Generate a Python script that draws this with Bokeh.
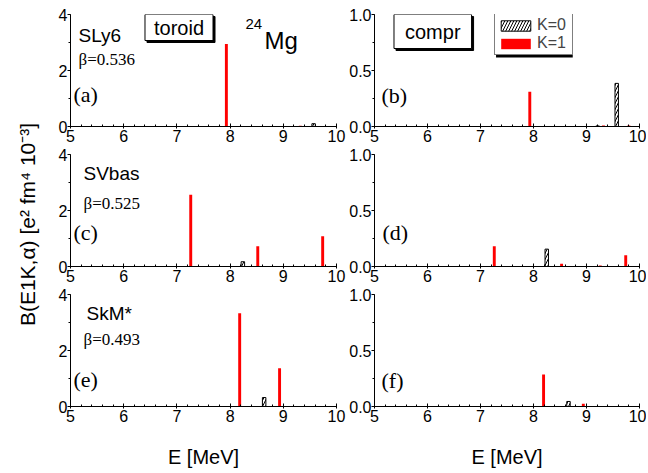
from math import pi
from bokeh.plotting import figure
from bokeh.models import (Range1d, SingleIntervalTicker, Label, Legend, LegendItem,
                          NumeralTickFormatter, ColumnDataSource, BoxAnnotation)
from bokeh.layouts import column, row
from bokeh.embed import file_html
from bokeh.resources import INLINE

# ---------------- data (E in MeV, B(E1K) in e^2 fm^4 10^-3) ----------------
x_ticks = [5, 6, 7, 8, 9, 10]

# (a) SLy6 toroidal
a_E1 = [7.93, 9.25, 9.32, 9.80]
a_B1 = [2.95, 0.02, 0.03, 0.02]
a_E0 = [9.57]
a_B0 = [0.10]
# (b) SLy6 compression
b_E1 = [7.93, 9.32, 9.80]
b_B1 = [0.31, 0.01, 0.01]
b_E0 = [9.21, 9.57]
b_B0 = [0.005, 0.385]
# (c) SVbas toroidal
c_E1 = [7.26, 8.52, 8.80, 9.25, 9.74]
c_B1 = [2.56, 0.72, 0.02, 0.02, 1.08]
c_E0 = [8.24]
c_B0 = [0.17]
# (d) SVbas compression
d_E1 = [7.26, 8.53, 8.80, 9.10, 9.26, 9.74]
d_B1 = [0.18, 0.025, 0.005, 0.005, 0.008, 0.10]
d_E0 = [8.25]
d_B0 = [0.155]
# (e) SkM* toroidal
e_E1 = [8.18, 8.93, 9.62]
e_B1 = [3.33, 1.37, 0.02]
e_E0 = [8.64]
e_B0 = [0.32]
# (f) SkM* compression
f_E1 = [8.19, 8.94]
f_B1 = [0.285, 0.025]
f_E0 = [8.66]
f_B0 = [0.045]

forces = ["SLy6", "SVbas", "SkM*"]
betas = ["\u03b2=0.536", "\u03b2=0.525", "\u03b2=0.493"]
panel_tags = ["(a)", "(b)", "(c)", "(d)", "(e)", "(f)"]
y_title = "B(E1K,\u03b1) [e\u00b2 fm\u2074 10\u207b\u00b3]"

SANS = "Liberation Sans"
SERIF = "Liberation Serif"

# layout geometry (pixels)
LABEL_W = 40
FRAME_W, FRAME_H = 266, 112
LEFT_X0, RIGHT_X0 = 70, 373          # frame left edges in reference image
ROW_BOTTOM = [126, 266, 406]         # frame bottoms in reference image
ROW_H = [148, 140, 182]
TOTAL_H = sum(ROW_H)


def make_fig(col, rw, ymax):
    last = rw == 2
    mbl = (LEFT_X0 - LABEL_W) if col == 0 else 27
    mbr = 10 if col == 0 else 7
    mbt = 14 if rw == 0 else 6
    mbb = ROW_H[rw] - mbt - FRAME_H
    p = figure(width=mbl + FRAME_W + mbr, height=ROW_H[rw],
               x_range=Range1d(5, 10), y_range=Range1d(0, ymax),
               output_backend="svg", toolbar_location=None,
               min_border_left=mbl, min_border_right=mbr,
               min_border_top=mbt, min_border_bottom=mbb)
    p.outline_line_color = None
    p.grid.visible = False
    p.background_fill_color = "white"
    p.border_fill_color = "white"

    p.xaxis.ticker = SingleIntervalTicker(interval=1, num_minor_ticks=5)
    p.xaxis.major_tick_in = 3
    p.xaxis.major_tick_out = 2
    p.xaxis.minor_tick_in = 2
    p.xaxis.minor_tick_out = 0
    p.xaxis.major_label_standoff = 1

    if col == 0:
        p.yaxis.ticker = SingleIntervalTicker(interval=2, num_minor_ticks=2)
        p.yaxis.formatter = NumeralTickFormatter(format="0")
    else:
        p.yaxis.ticker = SingleIntervalTicker(interval=0.5, num_minor_ticks=2)
        p.yaxis.formatter = NumeralTickFormatter(format="0.0")
    p.yaxis.major_tick_in = 0
    p.yaxis.major_tick_out = 3
    p.yaxis.minor_tick_in = 0
    p.yaxis.minor_tick_out = 2
    p.yaxis.major_label_standoff = 0

    for ax in (p.xaxis[0], p.yaxis[0]):
        ax.axis_line_color = "black"
        ax.major_tick_line_color = "black"
        ax.minor_tick_line_color = "black"
        ax.major_label_text_font = SANS
        ax.major_label_text_font_size = "16px"
        ax.major_label_text_color = "black"

    if last:
        p.xaxis.axis_label = "E [MeV]"
        p.xaxis.axis_label_text_font = SANS
        p.xaxis.axis_label_text_font_size = "20px"
        p.xaxis.axis_label_text_font_style = "normal"
        p.xaxis.axis_label_text_color = "black"
        p.xaxis.axis_label_standoff = 21
    return p


def to_data(col, rw, ymax, sx, sy):
    x0 = LEFT_X0 if col == 0 else RIGHT_X0
    x = 5 + (sx - x0) * 5.0 / FRAME_W
    y = (ROW_BOTTOM[rw] - sy) * ymax / FRAME_H
    return x, y


def add_text(p, col, rw, ymax, sx, sy, text, font, size, align="left",
             baseline="alphabetic"):
    x, y = to_data(col, rw, ymax, sx, sy)
    p.add_layout(Label(x=x, y=y, text=text, text_font=font, text_font_size=size,
                       text_align=align, text_baseline=baseline,
                       text_color="black"))


def add_box(p, col, rw, ymax, sx, sy, text, padx, pady):
    x, y = to_data(col, rw, ymax, sx, sy)
    pad = dict(left=padx, right=padx, top=pady, bottom=pady)
    p.add_layout(Label(x=x, y=y, text=text, text_font=SANS, text_font_size="20px",
                       text_align="center", text_baseline="middle",
                       x_offset=2, y_offset=-2, text_color="black",
                       background_fill_color="black", border_line_color="black",
                       padding=pad))
    p.add_layout(Label(x=x, y=y, text=text, text_font=SANS, text_font_size="20px",
                       text_align="center", text_baseline="middle",
                       text_color="black", background_fill_color="white",
                       border_line_color="black", border_line_width=1,
                       padding=pad))


data = [
    [(a_E1, a_B1, a_E0, a_B0), (b_E1, b_B1, b_E0, b_B0)],
    [(c_E1, c_B1, c_E0, c_B0), (d_E1, d_B1, d_E0, d_B0)],
    [(e_E1, e_B1, e_E0, e_B0), (f_E1, f_B1, f_E0, f_B0)],
]

rows = []
for rw in range(3):
    figs = []
    for col in range(2):
        ymax = 4 if col == 0 else 1.0
        p = make_fig(col, rw, ymax)
        E1, B1, E0, B0 = data[rw][col]
        r0 = p.vbar(x="E", top="B", bottom=0, width=0.065,
                    source=ColumnDataSource(dict(E=E0, B=B0)),
                    fill_color="white", line_color="black", line_width=1,
                    hatch_pattern="/", hatch_color="black", hatch_scale=6,
                    hatch_weight=1)
        r1 = p.vbar(x="E", top="B", bottom=0, width=0.055,
                    source=ColumnDataSource(dict(E=E1, B=B1)),
                    fill_color="red", line_color=None)

        tag = panel_tags[rw * 2 + col]
        tag_pos = {(0, 0): (73, 94), (0, 1): (380, 95), (1, 0): (73, 232),
                   (1, 1): (381, 232), (2, 0): (73, 379), (2, 1): (380, 380)}[(rw, col)]
        add_text(p, col, rw, ymax, tag_pos[0], tag_pos[1], tag, SERIF, "22px")

        if col == 0:
            name_pos = [(78, 35), (83, 173), (86, 313)][rw]
            beta_pos = [(78, 59), (83, 203), (83, 339)][rw]
            add_text(p, col, rw, ymax, name_pos[0], name_pos[1], forces[rw], SANS, "19px")
            add_text(p, col, rw, ymax, beta_pos[0], beta_pos[1], betas[rw], SERIF, "17px")

        if rw == 0 and col == 0:
            add_box(p, col, rw, ymax, 178.5, 27, "toroid", 9, 2)
            add_text(p, col, rw, ymax, 245, 23, "24", SANS, "15px")
            add_text(p, col, rw, ymax, 264, 40, "Mg", SANS, "24px")
        if rw == 0 and col == 1:
            add_box(p, col, rw, ymax, 431.5, 31, "compr", 11, 6)
            # legend drop shadow (legend box spans x 493-570, y 15-55)
            sl, st = to_data(col, rw, ymax, 495, 17)
            sr, sb = to_data(col, rw, ymax, 572, 57)
            p.add_layout(BoxAnnotation(left=sl, right=sr, top=st, bottom=sb,
                                       fill_color="black", fill_alpha=1,
                                       line_color=None))
            legend = Legend(items=[LegendItem(label="K=0", renderers=[r0]),
                                   LegendItem(label="K=1", renderers=[r1])],
                            location=(120, 71), orientation="vertical",
                            border_line_color="black", border_line_width=1,
                            background_fill_color="white", background_fill_alpha=1,
                            padding=2, spacing=0, margin=0,
                            glyph_width=37, glyph_height=13, label_standoff=3,
                            label_text_font=SANS, label_text_font_size="16px",
                            label_height=18, label_width=33)
            p.add_layout(legend)
        figs.append(p)
    rows.append(row(*figs, spacing=0))

# narrow strip holding the common y-axis title
lab = figure(width=LABEL_W, height=TOTAL_H, x_range=Range1d(0, LABEL_W),
             y_range=Range1d(0, TOTAL_H), x_axis_type=None, y_axis_type=None,
             output_backend="svg", toolbar_location=None,
             min_border=0, min_border_left=0, min_border_right=0,
             min_border_top=0, min_border_bottom=0)
lab.outline_line_color = None
lab.grid.visible = False
lab.add_layout(Label(x=27, y=TOTAL_H - 224, text=y_title, text_font=SANS,
                     text_font_size="21px", text_align="center",
                     text_baseline="middle", angle=pi / 2, text_color="black"))

layout = row(lab, column(*rows, spacing=0), spacing=0)

with open("out.html", "w") as fh:
    fh.write(file_html(layout, INLINE))
